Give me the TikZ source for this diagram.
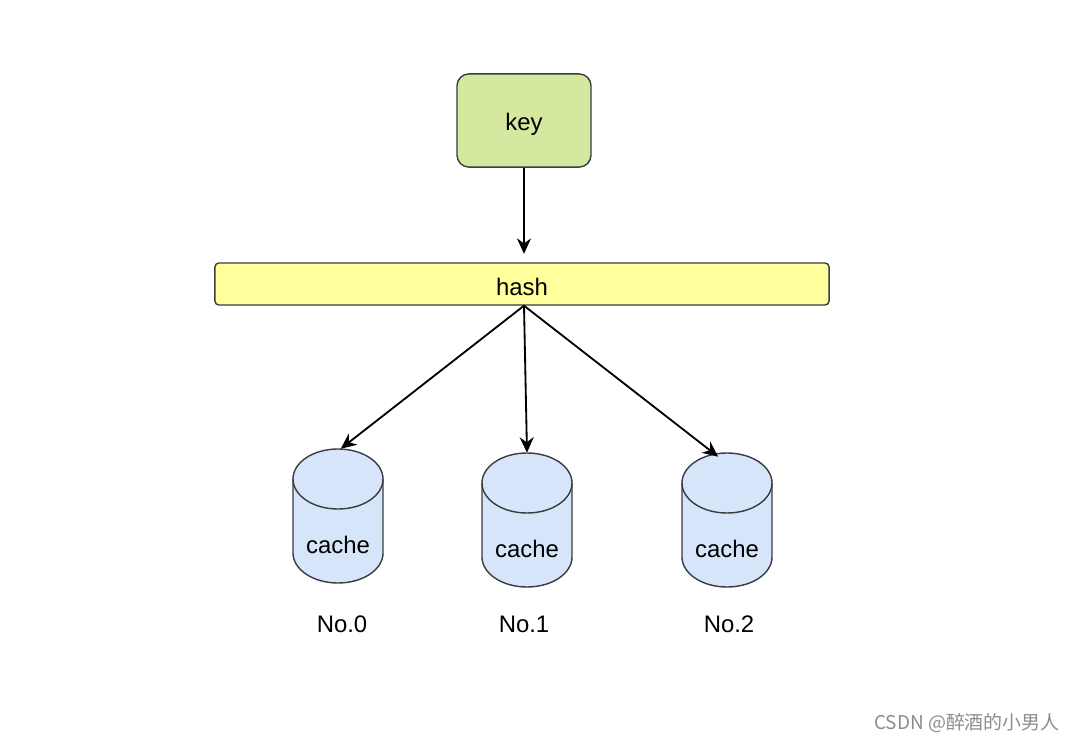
\documentclass[tikz,border=0pt]{standalone}
\usepackage{fontspec}
\setmainfont{Liberation Sans}
\newfontfamily\cjkfont{Noto Sans CJK SC}
\usetikzlibrary{arrows.meta}

\definecolor{keygreen}{HTML}{D5E8A0}
\definecolor{hashyellow}{HTML}{FFFF9C}
\definecolor{cacheblue}{HTML}{D6E5FA}
\definecolor{edgegray}{HTML}{3A3C3F}
\definecolor{markgray}{HTML}{8C8C8C}

\tikzset{
  boxline/.style={draw=edgegray, line width=1pt},
  flow/.style={black, line width=1.3pt, -{Stealth[length=11pt, width=10pt]}},
  label/.style={font=\fontsize{17}{20}\selectfont}
}

% cylinder: name, centre x, top y
\newcommand{\cachedb}[3]{%
  \filldraw[boxline, fill=cacheblue] (#2-45,#3+30) -- (#2-45,#3+104)
    arc[start angle=180, end angle=360, x radius=1.125cm, y radius=0.75cm]
    -- (#2+45,#3+30)
    arc[start angle=0, end angle=180, x radius=1.125cm, y radius=0.75cm];
  \draw[boxline] (#2-45,#3+30)
    arc[start angle=180, end angle=360, x radius=1.125cm, y radius=0.75cm];
  \node[inner sep=0pt, minimum width=2.25cm, minimum height=3.35cm] (#1) at (#2,#3+67) {};
  \node[label] at (#2,#3+96) {cache};
}

\begin{document}
\begin{tikzpicture}[x=0.025cm, y=-0.025cm]
  \useasboundingbox (0,0) rectangle (1080,742);

  \node[boxline, fill=keygreen, rounded corners=0.3cm, minimum width=3.35cm,
        minimum height=2.33cm] (key) at (524,120.5) {};
  \node[label] at (524,124) {key};
  \node[boxline, fill=hashyellow, rounded corners=0.1cm, minimum width=15.35cm,
        minimum height=1.05cm] (hash) at (522,284) {};
  \node[label] at (522,287) {hash};

  \cachedb{db0}{338}{449}
  \cachedb{db1}{527}{453}
  \cachedb{db2}{727}{453}

  \node[label] (no0) at (342,624) {No.0};
  \node[label] (no1) at (524,624) {No.1};
  \node[label] (no2) at (729,624) {No.2};

  \coordinate (hub) at (hash.south -| key.south);

  \draw[flow, shorten >=6pt] (key.south) -- (key.south |- hash.north);
  \draw[flow] (hub) -- ([xshift=2pt]db0.north);
  \draw[flow] (hub) -- (db1.north);
  \draw[flow] (hub) -- ([xshift=-0.22cm, yshift=-0.1cm]db2.north);

  \node[markgray, font=\cjkfont\fontsize{13.5}{16}\selectfont] (mark) at (967,723)
    {CSDN @醉酒的小男人};
\end{tikzpicture}
\end{document}
